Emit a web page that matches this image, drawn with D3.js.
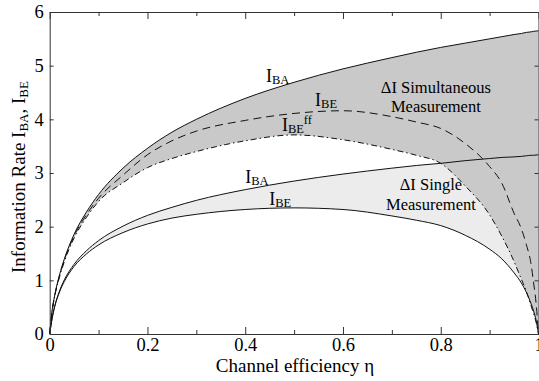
<!DOCTYPE html>
<html>
<head>
<meta charset="utf-8">
<script src="https://cdn.jsdelivr.net/npm/d3@7"></script>
<style>
  body { margin: 0; background: #fff; }
  text { font-family: 'Liberation Serif', 'Times New Roman', serif; fill: #000; }
</style>
</head>
<body>
<script>
// channel efficiency samples
const eta = [0, 0.005, 0.01, 0.02, 0.03, 0.05, 0.075, 0.1, 0.15, 0.2, 0.25, 0.3, 0.4, 0.5,
	0.6, 0.7, 0.75, 0.8, 0.85, 0.9, 0.925, 0.95, 0.965, 0.975, 0.985, 0.99, 0.995, 1]

// simultaneous measurement
const iBA = [0, 0.44, 0.71, 1.10, 1.40, 1.86, 2.27, 2.60, 3.09, 3.46, 3.76, 4.00, 4.39, 4.69,
	4.94, 5.15, 5.25, 5.34, 5.42, 5.50, 5.54, 5.58, 5.60, 5.62, 5.63, 5.64, 5.645, 5.65]
const iBE = [0, 0.43, 0.70, 1.08, 1.38, 1.83, 2.22, 2.53, 2.96, 3.34, 3.60, 3.78, 3.98, 4.11,
	4.16, 4.05, 3.95, 3.83, 3.55, 3.12, 2.81, 2.25, 1.96, 1.67, 1.29, 0.95, 0.58, 0]
const iBEff = [0, 0.43, 0.69, 1.06, 1.35, 1.79, 2.17, 2.47, 2.82, 3.10, 3.27, 3.40, 3.60, 3.71,
	3.62, 3.44, 3.33, 3.18, 2.76, 2.22, 1.82, 1.35, 1.02, 0.80, 0.52, 0.38, 0.22, 0]

// single measurement
const sBA = [0, 0.30, 0.51, 0.80, 1.01, 1.30, 1.55, 1.74, 2.01, 2.21, 2.36, 2.49, 2.69, 2.85,
	2.98, 3.09, 3.14, 3.18, 3.23, 3.27, 3.29, 3.30, 3.31, 3.32, 3.33, 3.33, 3.335, 3.34]
const sBE = [0, 0.29, 0.50, 0.78, 0.98, 1.26, 1.49, 1.66, 1.89, 2.05, 2.16, 2.23, 2.32, 2.35,
	2.32, 2.20, 2.12, 2.02, 1.84, 1.58, 1.40, 1.14, 0.95, 0.78, 0.56, 0.43, 0.26, 0]

const xMajor = [0, 0.2, 0.4, 0.6, 0.8, 1]
const xMinor = [0.1, 0.3, 0.5, 0.7, 0.9]
const yTicks = [0, 1, 2, 3, 4, 5, 6]

const width = 539
const height = 381

const svg = d3.select('body')
	.append('svg')
	.attr('width', width)
	.attr('height', height)

const x = d3.scaleLinear().domain([0, 1]).range([49.7, 538.5])
const y = d3.scaleLinear().domain([0, 6]).range([334, 12])

const idx = d3.range(eta.length)

const band = (top, bottom) => d3.area()
	.curve(d3.curveMonotoneX)
	.x(i => x(eta[i]))
	.y0(i => y(bottom[i]))
	.y1(i => y(top[i]))

const curve = vals => d3.line()
	.curve(d3.curveMonotoneX)
	.x(i => x(eta[i]))
	.y(i => y(vals[i]))

// fills
svg.append('path').datum(idx).attr('d', band(sBA, sBE)).attr('fill', '#ececec')
svg.append('path').datum(idx).attr('d', band(iBA, iBEff)).attr('fill', '#c9c9c9')

// curves
const lines = [
	[iBA, null],
	[iBE, '8,5'],
	[iBEff, '6,3,1.5,3'],
	[sBA, null],
	[sBE, null]
]
lines.forEach(([vals, dash]) => {
	svg.append('path')
		.datum(idx)
		.attr('d', curve(vals))
		.attr('fill', 'none')
		.attr('stroke', '#111')
		.attr('stroke-width', 1)
		.attr('stroke-dasharray', dash)
})

// axes (box with inward ticks)
const axisG = (axis, tx, ty) => {
	const g = svg.append('g')
		.attr('transform', `translate(${tx},${ty})`)
		.call(axis)
	g.selectAll('path, line').attr('stroke', '#333')
	g.selectAll('text').style('font-size', '18.5px').attr('fill', '#000')
	return g
}

axisG(d3.axisBottom(x).tickValues(xMajor).tickSize(-7).tickSizeOuter(0).tickPadding(4).tickFormat(d => d), 0, 334)
axisG(d3.axisBottom(x).tickValues(xMinor).tickSize(-4).tickSizeOuter(0).tickFormat(''), 0, 334)
axisG(d3.axisTop(x).tickValues(xMajor).tickSize(-7).tickSizeOuter(0).tickFormat(''), 0, 12)
axisG(d3.axisTop(x).tickValues(xMinor).tickSize(-4).tickSizeOuter(0).tickFormat(''), 0, 12)
axisG(d3.axisLeft(y).tickValues(yTicks).tickSize(-4).tickSizeOuter(0).tickPadding(6).tickFormat(d => d), 49.7, 0)
axisG(d3.axisRight(y).tickValues(yTicks).tickSize(-4).tickSizeOuter(0).tickFormat(''), 538.5, 0)

// axis titles
svg.append('text')
	.attr('x', 295)
	.attr('y', 372)
	.attr('text-anchor', 'middle')
	.style('font-size', '19px')
	.text('Channel efficiency η')

const yTitle = svg.append('text')
	.attr('transform', 'translate(25,177) rotate(-90)')
	.attr('text-anchor', 'middle')
	.style('font-size', '19px')
yTitle.append('tspan').text('Information Rate I')
yTitle.append('tspan').attr('dy', 3).style('font-size', '13px').text('BA')
yTitle.append('tspan').attr('dy', -3).text(', I')
yTitle.append('tspan').attr('dy', 3).style('font-size', '13px').text('BE')

// curve labels: [x, y, subscript, superscript]
const curveLabels = [
	[0.4425, 4.70, 'BA', null],
	[0.543, 4.25, 'BE', null],
	[0.475, 3.78, 'BE', 'ff'],
	[0.40, 2.81, 'BA', null],
	[0.449, 2.40, 'BE', null]
]
curveLabels.forEach(([lx, ly, sub, sup]) => {
	const t = svg.append('text')
		.attr('x', x(lx))
		.attr('y', y(ly))
		.style('font-size', '18px')
	t.append('tspan').text('I')
	t.append('tspan').attr('dy', 2).style('font-size', '12.5px').text(sub)
	if (sup) t.append('tspan').attr('dy', -9).style('font-size', '12.5px').text(sup)
})

// region labels
const regionLabels = [
	[0.79, 4.49, 'ΔI Simultaneous'],
	[0.79, 4.14, 'Measurement'],
	[0.78, 2.68, 'ΔI Single'],
	[0.78, 2.31, 'Measurement']
]
svg.selectAll('text.region')
	.data(regionLabels)
	.enter()
	.append('text')
	.attr('class', 'region')
	.attr('x', d => x(d[0]))
	.attr('y', d => y(d[1]))
	.attr('text-anchor', 'middle')
	.style('font-size', '16.5px')
	.text(d => d[2])
</script>
</body>
</html>
